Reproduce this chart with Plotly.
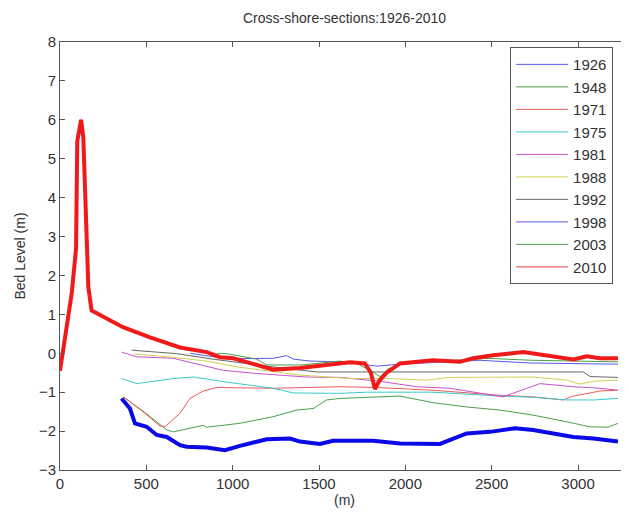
import plotly.graph_objects as go

FONT = "Liberation Sans, Arial, sans-serif"

# ── data (distance along section in m, bed level in m) ──────────────────────
x1926 = [357, 405, 434, 502, 560, 618, 695, 733, 849, 955, 1042, 1197, 1332, 1390,
         1505, 1581, 1813, 1969, 2200, 2258, 2355, 2490, 2635, 2740, 2856, 2973, 3089, 3231]
y1926 = [-1.16, -1.42, -1.8, -1.89, -2.1, -2.15, -2.36, -2.4, -2.42, -2.49, -2.38, -2.21, -2.19, -2.27,
         -2.33, -2.25, -2.25, -2.32, -2.33, -2.23, -2.06, -2.02, -1.93, -1.97, -2.06, -2.15, -2.19, -2.27]

x1948 = [367, 500, 618, 656, 791, 830, 849, 1042, 1235, 1370, 1467, 1544, 1621, 1776,
         1969, 2160, 2355, 2548, 2740, 2934, 3069, 3174, 3231]
y1948 = [-1.12, -1.55, -1.97, -2.02, -1.89, -1.85, -1.9, -1.8, -1.63, -1.46, -1.42, -1.2, -1.16, -1.13,
         -1.1, -1.27, -1.38, -1.46, -1.59, -1.76, -1.89, -1.9, -1.8]

x1971 = [367, 480, 579, 610, 695, 753, 830, 907, 1235, 1621, 1830, 2160, 2548, 2740, 2914, 2973, 3127, 3231]
y1971 = [-1.12, -1.5, -1.87, -1.88, -1.54, -1.16, -0.97, -0.88, -0.9, -0.86, -0.88, -0.95, -1.08, -1.12,
         -1.2, -1.1, -0.97, -0.95]

x1975 = [357, 444, 656, 772, 946, 1235, 1351, 1621, 1776, 2160, 2548, 2740, 2934, 3089, 3231]
y1975 = [-0.65, -0.78, -0.65, -0.61, -0.73, -0.9, -1.02, -1.03, -1.0, -1.0, -1.1, -1.13, -1.2, -1.2, -1.16]

x1981 = [357, 444, 656, 772, 946, 1139, 1428, 1621, 1853, 2065, 2258, 2565, 2779, 2973, 3127, 3231]
y1981 = [0.03, -0.09, -0.13, -0.26, -0.44, -0.52, -0.61, -0.62, -0.72, -0.86, -0.9, -1.12, -0.78,
         -0.86, -0.9, -0.95]

x1988 = [430, 650, 850, 1023, 1200, 1390, 1680, 1900, 2123, 2258, 2740, 2934, 3011, 3089, 3231]
y1988 = [-0.02, -0.1, -0.2, -0.35, -0.45, -0.56, -0.65, -0.65, -0.69, -0.62, -0.61, -0.69, -0.79, -0.72, -0.69]

x1992 = [415, 676, 869, 1158, 1486, 1800, 2200, 2600, 3030, 3070, 3231]
y1992 = [0.08, -0.01, -0.14, -0.31, -0.48, -0.48, -0.47, -0.47, -0.48, -0.6, -0.62]

x1998 = [753, 965, 1235, 1293, 1312, 1351, 1448, 1621, 1834, 1969, 2432, 2721, 3231]
y1998 = [0.0, -0.14, -0.13, -0.08, -0.06, -0.15, -0.2, -0.22, -0.33, -0.28, -0.18, -0.25, -0.28]

x2003 = [907, 965, 1139, 1197, 1400, 1621, 1718, 1800, 1853, 1900, 2000, 2480, 2730, 3231]
y2003 = [-0.01, -0.01, -0.15, -0.3, -0.3, -0.2, -0.26, -0.45, -0.6, -0.4, -0.25, -0.13, -0.18, -0.22]

x2010 = [0, 68, 93, 100, 122, 135, 155, 164, 183, 365, 521, 695, 850, 926, 1003, 1130, 1235, 1390,
         1530, 1680, 1766, 1800, 1824, 1850, 1892, 1969, 2160, 2316, 2392, 2509, 2683, 2837, 2973,
         3050, 3127, 3231]
y2010 = [-0.45, 1.54, 2.7, 5.45, 6.0, 5.55, 2.9, 1.7, 1.1, 0.67, 0.41, 0.15, 0.03, -0.1, -0.13, -0.3,
         -0.42, -0.38, -0.3, -0.23, -0.26, -0.5, -0.92, -0.7, -0.5, -0.26, -0.18, -0.22, -0.13, -0.05,
         0.03, -0.08, -0.16, -0.08, -0.13, -0.13]

years = ["1926", "1948", "1971", "1975", "1981", "1988", "1992", "1998", "2003", "2010"]
xs = [x1926, x1948, x1971, x1975, x1981, x1988, x1992, x1998, x2003, x2010]
ys = [y1926, y1948, y1971, y1975, y1981, y1988, y1992, y1998, y2003, y2010]
colors = ["#5a5ae8", "#4a9f4a", "#ee5a5a", "#3cc8c8", "#cc50cc",
          "#d0d050", "#666666", "#5a5ae8", "#4a9f4a", "#ee4040"]
THICK = {"1926": ("#0a0ae8", 4), "2010": ("#f01a1a", 4)}

fig = go.Figure()
for yr, x, y, c in zip(years, xs, ys, colors):
    # thin line carries the legend entry
    fig.add_trace(go.Scatter(x=x, y=y, mode="lines", name=yr, legendgroup=yr,
                             line=dict(color=c, width=1)))
    if yr in THICK:
        tc, tw = THICK[yr]
        fig.add_trace(go.Scatter(x=x, y=y, mode="lines", name=yr, legendgroup=yr,
                                 showlegend=False, line=dict(color=tc, width=tw)))

axis_common = dict(
    showline=True, linecolor="#555555", linewidth=1, mirror="ticks",
    ticks="inside", ticklen=5, tickcolor="#555555", showgrid=False, zeroline=False,
    tickfont=dict(family=FONT, size=15, color="#333333"),
)

# body has an 8px default margin, so the figure is sized to fit the 629x518 window
fig.update_layout(
    width=621, height=510,
    template="simple_white",
    plot_bgcolor="white", paper_bgcolor="white",
    title=dict(text="Cross-shore-sections:1926-2010", x=0.5, xref="paper", y=0.98, yanchor="middle",
               font=dict(family=FONT, size=14, color="#333333")),
    margin=dict(l=52, r=0, t=34, b=48),
    xaxis=dict(range=[0, 3295], tickvals=[0, 500, 1000, 1500, 2000, 2500, 3000],
               title=dict(text="(m)", standoff=2, font=dict(family=FONT, size=14, color="#333333")),
               **axis_common),
    yaxis=dict(range=[-3, 8], tickvals=list(range(-3, 9)),
               title=dict(text="Bed Level (m)", standoff=9, font=dict(family=FONT, size=14, color="#333333")),
               **axis_common),
    legend=dict(x=0.791, y=0.988, xanchor="left", yanchor="top",
                bordercolor="#555555", borderwidth=1, bgcolor="white",
                font=dict(family=FONT, size=15, color="#333333"),
                itemwidth=52, tracegroupgap=0),
    showlegend=True,
)

fig.write_html("out.html")
